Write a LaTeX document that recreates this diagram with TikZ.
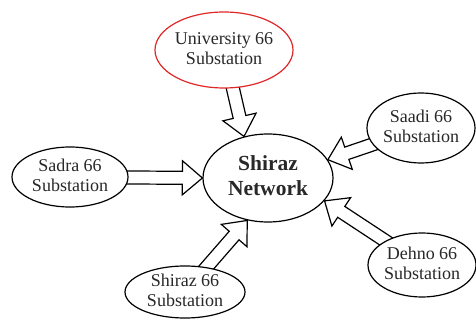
\documentclass[tikz,border=0pt]{standalone}
\usepackage{fontspec}
\setmainfont{Liberation Serif}
\usetikzlibrary{shapes.geometric,calc}
\pgfdeclarelayer{bg}
\pgfsetlayers{bg,main}
\definecolor{unired}{RGB}{224,40,40}
\definecolor{txt}{RGB}{40,40,40}
\newcommand\twolines[2]{\smash{\makebox[0pt]{\raisebox{-.25em}{\begin{tabular}{@{}c@{}}#1\\#2\end{tabular}}}}}
\newcommand\fatarrow[2]{%
  \begin{pgfonlayer}{bg}
    \draw[blockarrow] let \p1=(#1), \p2=(#2),
      \n1={atan2(\y2-\y1,\x2-\x1)}, \n2={veclen(\x2-\x1,\y2-\y1)} in
      [shift={(\p1)}, rotate=\n1]
      (0,-6.5) -- ({\n2-20},-6.5) -- ({\n2-20},-17) -- (\n2,0)
      -- ({\n2-20},17) -- ({\n2-20},6.5) -- (0,6.5) -- cycle;
  \end{pgfonlayer}}
\tikzset{
  sub/.style={ellipse, draw, line width=1.2pt, fill=white, inner sep=0pt,
    font=\fontsize{18}{20}\selectfont, text=txt},
  blockarrow/.style={draw, line width=1.2pt, fill=white, line join=miter},
}
\begin{document}
\begin{tikzpicture}[x=1pt,y=-1pt]
\useasboundingbox (0,0) rectangle (476,320);
\node[sub, draw=unired, minimum width=138, minimum height=76] (uni) at (224,50)
  {\twolines{University 66}{Substation}};
\node[sub, minimum width=116, minimum height=60] (sadra) at (70,177)
  {\twolines{Sadra 66}{Substation}};
\node[sub, minimum width=108, minimum height=70] (saadi) at (421,128)
  {\twolines{Saadi 66}{Substation}};
\node[sub, minimum width=120, minimum height=52] (shiraz) at (185,292)
  {\twolines{Shiraz 66}{Substation}};
\node[sub, minimum width=108, minimum height=64] (dehno) at (422,265)
  {\twolines{Dehno 66}{Substation}};
\node[sub, minimum width=130, minimum height=88,
  font=\fontsize{21.5}{25}\selectfont\bfseries] (net) at (268,178)
  {\twolines{Shiraz}{Network}};
\fatarrow{uni.center}{net.120.8}
\fatarrow{sadra.center}{net.180}
\fatarrow{saadi.center}{net.17.6}
\fatarrow{shiraz.center}{net.-116.6}
\fatarrow{dehno.center}{net.-22.8}
\end{tikzpicture}
\end{document}
